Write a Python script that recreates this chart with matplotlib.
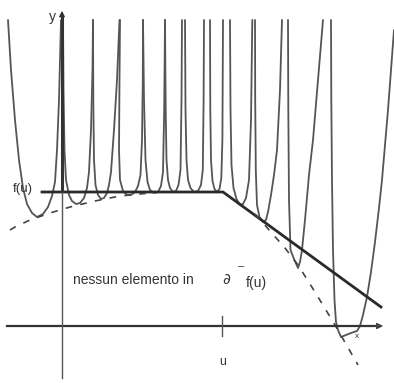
import matplotlib.pyplot as plt

# pixel-like coordinates (y grows downward)
wells_x = [
    [8, 11, 15, 19, 23, 27, 32, 37, 43, 48, 52, 55, 57, 59, 60, 61],
    [63, 63.5, 64.5, 66, 69, 72, 76, 80, 84, 87, 89, 91, 92.5, 93],
    [93, 93.3, 94, 95.5, 98, 101, 104, 107, 109, 111, 114, 117, 119.5],
    [120, 119.5, 119, 120, 123, 127, 131, 135, 138, 140.5, 142, 142.8, 143],
    [143, 144, 145.5, 147.5, 150, 154, 158, 161, 163, 164.2, 165],
    [165, 165.7, 166.5, 168, 170, 173, 176, 178.5, 180.5, 181.5, 182],
    [185, 185.5, 186.5, 188, 190.5, 194, 198, 201, 202.8, 203.6, 204],
    [210, 210.3, 211, 212.5, 214.5, 217, 219.5, 221.3, 222.4, 223],
    [230, 230.5, 231.5, 233.5, 236.5, 240, 243, 246, 249, 251, 252.3],
    [255, 255.2, 255.8, 257, 259.5, 263, 266, 268, 271, 274, 277, 280, 282],
    [288, 288.3, 289, 290.5, 294, 298, 300, 302, 305, 309, 313, 318, 323],
    [331, 331.3, 332, 333, 334.5, 336, 338, 341, 346, 351, 357, 360, 363,
     367, 371, 375, 379, 382, 385, 388, 391, 394],
]
wells_y = [
    [20, 70, 120, 160, 188, 204, 213, 217, 214, 207, 196, 182, 150, 100, 60, 20],
    [20, 90, 150, 180, 195, 201, 204, 203, 198, 188, 172, 130, 70, 20],
    [20, 100, 160, 185, 195, 199, 198, 193, 185, 172, 130, 80, 20],
    [20, 80, 150, 180, 191, 195, 195, 192, 186, 175, 140, 80, 20],
    [20, 100, 160, 182, 190, 193, 192, 186, 172, 110, 20],
    [20, 110, 160, 180, 188, 192, 191, 185, 170, 100, 20],
    [20, 110, 160, 180, 188, 192, 191, 185, 170, 100, 20],
    [20, 110, 160, 181, 189, 192, 189, 178, 140, 20],
    [20, 110, 165, 188, 199, 205, 204, 198, 180, 120, 20],
    [20, 100, 170, 205, 217, 222, 220, 212, 195, 175, 150, 90, 20],
    [20, 110, 200, 250, 259, 268, 262, 250, 220, 175, 140, 80, 20],
    [20, 100, 180, 250, 300, 322, 330, 337, 335, 333, 331, 326, 315,
     297, 272, 242, 208, 180, 145, 110, 70, 30],
]

# solid upper line through f(u)
line_x = [42, 223, 381]
line_y = [192, 192, 307]

# dashed envelopes
dash_left_x = [10, 15, 30, 50, 70, 95, 120, 150]
dash_left_y = [230, 227, 220, 213, 207, 201, 196, 193]
dash_right_x = [255, 270, 285, 298, 315, 335, 358]
dash_right_y = [214, 231, 248, 265, 292, 325, 365]

u_pos = 222
x_axis_y = 326
y_axis_x = 62

fig = plt.figure(figsize=(3.94, 3.83), dpi=100)
ax = fig.add_axes([0, 0, 1, 1])
ax.set_xlim(0, 394)
ax.set_ylim(383, 0)
ax.axis('off')

curve_col = '#555555'
for wx, wy in zip(wells_x, wells_y):
    ax.plot(wx, wy, color=curve_col, lw=1.3, solid_capstyle='round')

ax.plot(line_x, line_y, color='#2a2a2a', lw=2.0, solid_joinstyle='round')
ax.plot(dash_left_x, dash_left_y, color='#444444', lw=1.2, dashes=(4, 5))
ax.plot(dash_right_x, dash_right_y, color='#444444', lw=1.2, dashes=(4, 5))

# axes with arrows
ax.plot([7, 378], [x_axis_y, x_axis_y], color='#333333', lw=1.6)
ax.annotate('', xy=(386, x_axis_y), xytext=(372, x_axis_y),
            arrowprops=dict(arrowstyle='-|>', color='#444444', lw=1.0,
                            mutation_scale=9))
ax.plot([y_axis_x, y_axis_x], [18, 378], color='#555555', lw=1.0)
ax.plot([y_axis_x, y_axis_x], [18, 190], color='#333333', lw=2.2)
ax.annotate('', xy=(y_axis_x, 8), xytext=(y_axis_x, 20),
            arrowprops=dict(arrowstyle='-|>', color='#333333', lw=1.0,
                            mutation_scale=8))
ax.plot([u_pos, u_pos], [316, 336], color='#555555', lw=1.0)

txt = '#333333'
ax.text(52, 17, 'y', fontsize=10, color=txt, ha='center', va='center',
        family='Liberation Sans')
ax.text(13, 189, 'f(u)', fontsize=9.5, color=txt, ha='left', va='center',
        family='Liberation Sans')
ax.text(73, 280, 'nessun elemento in', fontsize=10, color=txt,
        ha='left', va='center', family='Liberation Sans')
ax.text(222, 279, r'$\partial$', fontsize=11, color=txt,
        ha='left', va='center')
ax.text(238, 266, '\u2013', fontsize=8, color=txt, ha='left', va='center',
        family='Liberation Sans')
ax.text(246, 283, 'f(u)', fontsize=10, color=txt, ha='left', va='center',
        family='Liberation Sans')
ax.text(223, 362, 'u', fontsize=9, color=txt, ha='center', va='center',
        family='Liberation Sans')
ax.text(357, 336, 'x', fontsize=6, color=txt, ha='center', va='center',
        family='Liberation Sans')

fig.savefig('out.png', dpi=100)
